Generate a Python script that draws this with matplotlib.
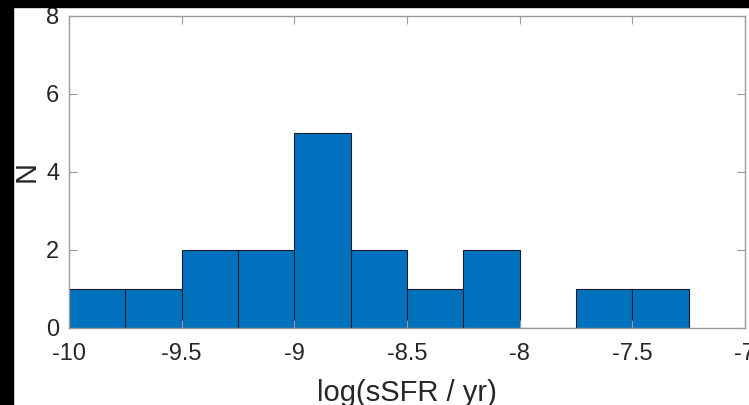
import numpy as np
import matplotlib.pyplot as plt
from matplotlib.patches import Rectangle

plt.rcParams['font.family'] = ['Liberation Sans', 'DejaVu Sans']

bin_edges = [-10, -9.75, -9.5, -9.25, -9, -8.75, -8.5, -8.25, -8, -7.75, -7.5, -7.25]
counts = [1, 1, 2, 2, 5, 2, 1, 2, 0, 1, 1]
xticks = [-10, -9.5, -9, -8.5, -8, -7.5, -7]
xticklabels = ['-10', '-9.5', '-9', '-8.5', '-8', '-7.5', '-7']
yticks = [0, 2, 4, 6, 8]

fig = plt.figure(figsize=(7.49, 4.05), dpi=100)
ax = fig.add_axes([69/749, 1 - 328/405, (745-69)/749, (328-16)/405])

left = np.array(bin_edges[:-1])
widths = np.diff(bin_edges)
ax.bar(left, counts, width=widths, align='edge', color='#0072BD',
       edgecolor='#1a1a2e', linewidth=0.8)

ax.set_xlim(-10, -7)
ax.set_ylim(0, 8)
ax.set_xticks(xticks)
ax.set_xticklabels(xticklabels)
ax.set_yticks(yticks)
ax.tick_params(direction='in', top=True, right=True, labelsize=17,
               colors='#9a9a9a', labelcolor='#262626', length=6)
ax.tick_params(axis='x', pad=11)
ax.tick_params(axis='y', pad=7)
for s in ax.spines.values():
    s.set_color('#9a9a9a')
    s.set_linewidth(1.0)
ax.set_xlabel('log(sSFR / yr)', fontsize=21, color='#262626', labelpad=10)
ax.set_ylabel('N', fontsize=21, color='#262626', labelpad=4)

# black borders at top and left
fig.add_artist(Rectangle((0, 0), 13/749, 1, transform=fig.transFigure,
                         color='black', zorder=10))
fig.add_artist(Rectangle((0, 1 - 7/405), 1, 7/405, transform=fig.transFigure,
                         color='black', zorder=10))

fig.savefig('out.png', dpi=100)
